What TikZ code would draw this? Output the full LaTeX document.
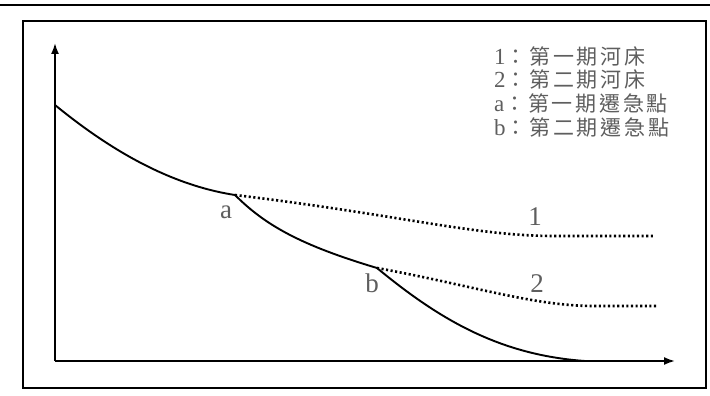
\documentclass[tikz,border=0pt]{standalone}
\usepackage{fontspec}
\setmainfont{Liberation Serif}
\newfontfamily\cjk[LetterSpace=13]{Noto Sans CJK TC}
\usetikzlibrary{arrows.meta}
\definecolor{txtgray}{HTML}{5E5E5E}
\tikzset{
  frameline/.style={line width=1.8pt, black},
  axisline/.style={line width=1.8pt, black, -{Latex[length=11pt,width=8pt]}},
  bedline/.style={line width=1.9pt, black},
  oldbed/.style={line width=2.6pt, black, dash pattern=on 2.1pt off 2.5pt},
  lbl/.style={text=txtgray, font=\fontsize{27}{27}\selectfont, inner sep=0pt},
  legend/.style={text=txtgray, font=\fontsize{23}{23}\selectfont, inner sep=0pt, anchor=west}
}
\newcommand{\cjkt}[1]{{\fontsize{21}{21}\selectfont\cjk #1}}
\begin{document}
\begin{tikzpicture}[x=1pt,y=-1pt]
\useasboundingbox (0,0) rectangle (710,396);
% top rule and frame
\coordinate (tl) at (0,5);
\coordinate (tr) at (710,5);
\draw[line width=1.8pt] (tl) -- (tr);
\coordinate (f1) at (23,21);
\coordinate (f2) at (706,388);
\draw[frameline] (f1) rectangle (f2);
% axes
\coordinate (O) at (55,361);
\coordinate (ytip) at (55,43);
\coordinate (xtip) at (675,361);
\draw[axisline] (O) -- (ytip);
\draw[axisline] (O) -- (xtip);
% knickpoints
\coordinate (a) at (235,195);
\coordinate (b) at (377,268);
\coordinate (s) at (55,105);
\coordinate (e) at (585,361);
% current bed
\draw[bedline] (s) .. controls (110,150) and (170,185) .. (a)
  .. controls (265,225) and (300,245) .. (b)
  .. controls (440,320) and (500,355) .. (e);
% old beds
\coordinate (e1) at (653,236);
\coordinate (e2) at (658,306);
\draw[oldbed] (a) .. controls (400,215) and (470,235) .. (550,236) -- (e1);
\draw[oldbed] (b) .. controls (470,285) and (530,305) .. (590,306) -- (e2);
% labels
\node[lbl] (la) at (226,212) {a};
\node[lbl] (lb) at (372,283) {b};
\node[lbl] (l1) at (535,217) {1};
\node[lbl] (l2) at (537,284) {2};
% legend
\node[legend] (g1) at (494,56) {1\cjkt{：第一期河床}};
\node[legend] (g2) at (494,79) {2\cjkt{：第二期河床}};
\node[legend] (g3) at (494,103) {a\cjkt{：第一期遷急點}};
\node[legend] (g4) at (494,127) {b\cjkt{：第二期遷急點}};
\end{tikzpicture}
\end{document}
